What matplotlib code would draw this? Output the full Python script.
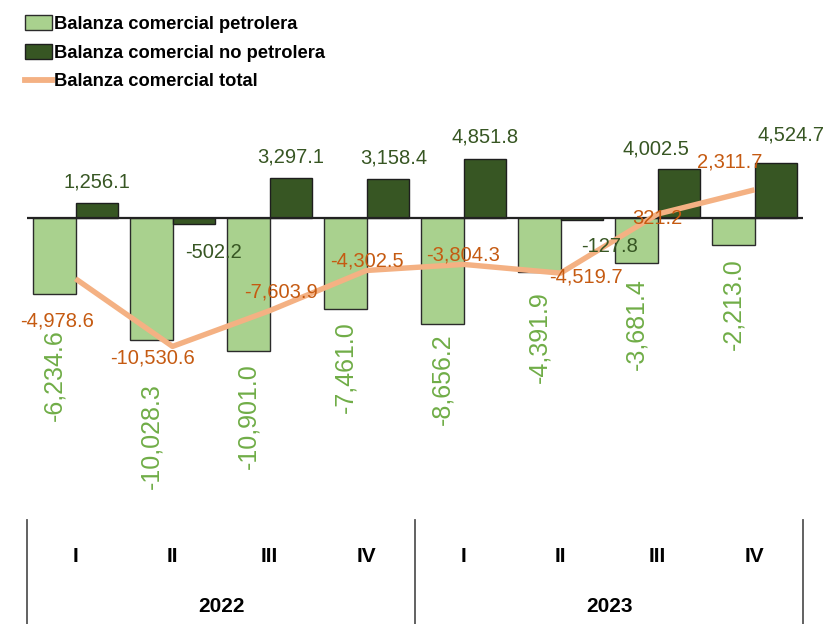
import numpy as np
import matplotlib.pyplot as plt
from matplotlib.patches import Patch
from matplotlib.lines import Line2D

plt.rcParams['font.family'] = ['Liberation Sans', 'DejaVu Sans']

quarters = ['I', 'II', 'III', 'IV', 'I', 'II', 'III', 'IV']
years = ['2022', '2023']
petrolera = [-6234.6, -10028.3, -10901.0, -7461.0, -8656.2, -4391.9, -3681.4, -2213.0]
no_petrolera = [1256.1, -502.2, 3297.1, 3158.4, 4851.8, -127.8, 4002.5, 4524.7]
total = [-4978.6, -10530.6, -7603.9, -4302.5, -3804.3, -4519.7, 321.2, 2311.7]

light_green = '#a9d18e'
dark_green = '#375623'
orange_line = '#f4b183'
orange_txt = '#c55a11'
green_txt = '#70ad47'

fig = plt.figure(figsize=(8.3, 6.24), dpi=100)
# axes spans pixel x 27..803, y 100..520
ax = fig.add_axes([27 / 830, 104 / 624, 776 / 830, 420 / 624])

x = np.arange(len(quarters))
w = 0.442
ax.bar(x - w / 2, petrolera, w, color=light_green, edgecolor='#2b2b2b', linewidth=1.0, zorder=2)
ax.bar(x + w / 2, no_petrolera, w, color=dark_green, edgecolor='#1e1e1e', linewidth=1.0, zorder=2)
ax.axhline(0, color='#222222', lw=1.6, zorder=3)
ax.plot(x, total, color=orange_line, lw=3.9, solid_capstyle='butt', zorder=4)

ax.set_xlim(-0.5, 7.5)
ax.set_ylim(-302 * 82, 118 * 82)
for s in ax.spines.values():
    s.set_visible(False)
ax.set_xticks([])
ax.set_yticks([])

px = 0.72  # points per pixel
fs = 14.5

# petrolera labels, rotated, below bars (gap in px per bar)
gaps = [35, 43, 12, 12, 10, 20, 15, 13]
for i, v in enumerate(petrolera):
    ax.annotate(f'{v:,.1f}', (x[i] - w / 2, v), xytext=(0, -gaps[i] * px),
                textcoords='offset points', rotation=90, ha='center', va='top',
                color=green_txt, fontsize=18, zorder=5)

# no petrolera labels
np_off = [(0, 21), (20, -35), (0, 21), (6, 21), (0, 22), (28, -29), (-23, 20), (15, 28)]
for i, v in enumerate(no_petrolera):
    dx, dy = np_off[i]
    ax.annotate(f'{v:,.1f}', (x[i] + w / 2, max(v, 0)), xytext=(dx * px, dy * px),
                textcoords='offset points', ha='center', va='center',
                color=dark_green, fontsize=fs, zorder=5)

# total labels
t_off = [(-18, 42), (-20, 12), (11, -19), (0, -9), (0, -9), (25, 4), (0, 4), (-25, -28)]
for i, v in enumerate(total):
    dx, dy = t_off[i]
    ax.annotate(f'{v:,.1f}', (x[i], v), xytext=(dx * px, -dy * px),
                textcoords='offset points', ha='center', va='center',
                color=orange_txt, fontsize=fs, zorder=6)

# category axis below
tr = ax.get_xaxis_transform()
for i, q in enumerate(quarters):
    ax.text(x[i], -37 / 420, q, transform=tr, ha='center', va='center',
            fontsize=15, fontweight='bold', color='black')
for j, yr in enumerate(years):
    ax.text(j * 4 + 1.5, -87 / 420, yr, transform=tr, ha='center', va='center',
            fontsize=15, fontweight='bold', color='black')
for xd in [-0.5, 3.5, 7.5]:
    ax.plot([xd, xd], [0, -110 / 420], transform=tr, color='#555555', lw=1.3, clip_on=False)

handles = [Patch(facecolor=light_green, edgecolor='#2b2b2b', linewidth=1.0),
           Patch(facecolor=dark_green, edgecolor='#1e1e1e', linewidth=1.0),
           Line2D([0], [0], color=orange_line, lw=4.2)]
labels = ['Balanza comercial petrolera', 'Balanza comercial no petrolera', 'Balanza comercial total']
fig.legend(handles, labels, loc='upper left', bbox_to_anchor=(10 / 830, 1.0), frameon=False,
           prop={'weight': 'bold', 'size': 13.2}, handlelength=1.5, handleheight=0.9,
           handletextpad=0.1, labelspacing=0.6, borderaxespad=0.4)

fig.savefig('out.png', dpi=100)
